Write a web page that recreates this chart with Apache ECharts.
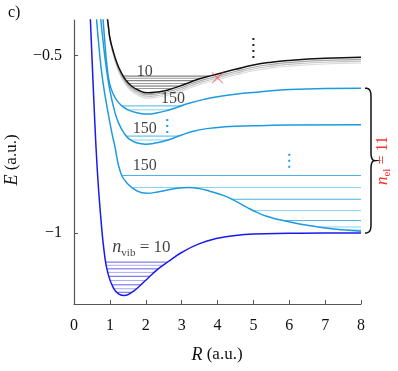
<!DOCTYPE html>
<html>
<head>
<meta charset="utf-8">
<script src="https://cdn.jsdelivr.net/npm/echarts@6/dist/echarts.min.js"></script>
<style>
  html, body { margin: 0; padding: 0; background: #fff; }
  #chart { width: 398px; height: 371px; }
</style>
</head>
<body>
<div id="chart"></div>
<script>
// potential curves, [R, E]
const groundCurve = [[0.44,-0.36],[0.55,-0.62],[0.65,-0.824],[0.75,-0.96],[0.85,-1.06],[0.95,-1.115],[1.1,-1.155],[1.25,-1.172],[1.41,-1.176],[1.6,-1.168],[1.8,-1.152],[2.0,-1.133],[2.2,-1.114],[2.4,-1.097],[2.62,-1.081],[3.0,-1.055],[3.5,-1.03],[4.0,-1.015],[4.5,-1.007],[5.0,-1.003],[6.0,-1.001],[7.0,-1.0],[8.0,-1.0]]
const blackCurve = [[0.88,-0.36],[0.95,-0.41],[1.0,-0.45],[1.08,-0.483],[1.2,-0.522],[1.32,-0.549],[1.45,-0.57],[1.6,-0.586],[1.8,-0.598],[2.06,-0.605],[2.3,-0.603],[2.62,-0.597],[3.09,-0.581],[3.4,-0.569],[3.7,-0.56],[4.0,-0.552],[4.5,-0.539],[5.0,-0.527],[5.5,-0.519],[6.0,-0.514],[7.0,-0.508],[8.0,-0.505]]
const grayCurve1 = [[0.88,-0.36],[0.95,-0.412],[1.0,-0.452],[1.08,-0.486],[1.2,-0.526],[1.32,-0.554],[1.45,-0.575],[1.6,-0.591],[1.8,-0.603],[2.06,-0.61],[2.3,-0.608],[2.62,-0.602],[3.09,-0.587],[3.4,-0.575],[3.7,-0.566],[4.0,-0.558],[4.5,-0.545],[5.0,-0.533],[5.5,-0.525],[6.0,-0.52],[7.0,-0.514],[8.0,-0.511]]
const grayCurve2 = [[0.88,-0.36],[0.95,-0.414],[1.0,-0.454],[1.08,-0.489],[1.2,-0.53],[1.32,-0.558],[1.45,-0.579],[1.6,-0.596],[1.8,-0.608],[2.06,-0.615],[2.3,-0.613],[2.62,-0.607],[3.09,-0.592],[3.4,-0.58],[3.7,-0.571],[4.0,-0.563],[4.5,-0.55],[5.0,-0.538],[5.5,-0.53],[6.0,-0.525],[7.0,-0.519],[8.0,-0.516]]
const grayCurve3 = [[0.88,-0.36],[0.95,-0.416],[1.0,-0.456],[1.08,-0.492],[1.2,-0.534],[1.32,-0.562],[1.45,-0.583],[1.6,-0.601],[1.8,-0.613],[2.06,-0.62],[2.3,-0.618],[2.62,-0.612],[3.09,-0.597],[3.4,-0.585],[3.7,-0.576],[4.0,-0.568],[4.5,-0.555],[5.0,-0.543],[5.5,-0.535],[6.0,-0.53],[7.0,-0.524],[8.0,-0.521]]
const cyanCurveA = [[0.78,-0.36],[0.85,-0.45],[0.92,-0.53],[0.99,-0.578],[1.1,-0.61],[1.22,-0.63],[1.35,-0.643],[1.5,-0.653],[1.75,-0.661],[2.05,-0.665],[2.3,-0.662],[2.6,-0.655],[2.9,-0.645],[3.23,-0.634],[3.65,-0.623],[4.0,-0.616],[4.5,-0.609],[5.0,-0.604],[5.5,-0.599],[6.0,-0.596],[7.0,-0.593],[8.0,-0.592]]
const cyanCurveB = [[0.71,-0.36],[0.8,-0.45],[0.9,-0.535],[1.0,-0.598],[1.13,-0.656],[1.25,-0.692],[1.41,-0.721],[1.55,-0.736],[1.74,-0.746],[2.0,-0.75],[2.3,-0.746],[2.62,-0.738],[3.0,-0.724],[3.3,-0.714],[3.7,-0.706],[4.2,-0.701],[5.0,-0.698],[6.0,-0.696],[8.0,-0.695]]
const cyanCurveC = [[0.6,-0.36],[0.7,-0.48],[0.8,-0.57],[0.94,-0.656],[1.05,-0.715],[1.13,-0.752],[1.3,-0.83],[1.5,-0.862],[1.75,-0.881],[2.02,-0.888],[2.4,-0.883],[2.76,-0.876],[3.2,-0.872],[3.5,-0.875],[3.8,-0.883],[4.16,-0.894],[4.5,-0.91],[4.81,-0.927],[5.1,-0.942],[5.37,-0.953],[5.7,-0.962],[6.02,-0.969],[6.5,-0.978],[6.95,-0.985],[7.5,-0.991],[8.0,-0.995]]

// vibrational / electronic levels (E)
const groundLevels = [-1.082, -1.091, -1.101, -1.111, -1.122, -1.134, -1.146, -1.157, -1.167]
const blackLevels = [-0.558, -0.564, -0.571, -0.579, -0.586, -0.593]
const cyanLevelsA = [-0.642, -0.653]
const cyanLevelsB = [-0.727, -0.738]
const cyanLevelsC = [-0.838, -0.872, -0.905, -0.937, -0.965, -0.983, -0.992]

// text labels [R, E]
const textLabels = [
  { text: '10', at: [1.97, -0.545] },
  { text: '150', at: [2.76, -0.622] },
  { text: '150', at: [1.97, -0.707] },
  { text: '150', at: [1.97, -0.81] }
]
const nvibLabelAt = [1.88, -1.041]
const crossAt = [4.0, -0.563]
const dotMarks = [
  { R: 5.0, E: [-0.451, -0.511], color: '#222' },
  { R: 2.6, E: [-0.679, -0.72], color: '#1e9be0' },
  { R: 6.0, E: [-0.777, -0.822], color: '#1e9be0' }
]
const bracketE = [-0.592, -1.0]

const serif = 'Liberation Serif'
const BLUE = '#1a1aee'
const CYAN = '#1e9be0'
const RED = '#ff3030'

function crossAtE(p, q, E) {
  return p[0] + (E - p[1]) * (q[0] - p[0]) / (q[1] - p[1])
}
// horizontal level from the left wall to the right wall (or to R = 8)
function levelSeg(curve, E, toEnd) {
  let i = 1
  while (i < curve.length && curve[i][1] > E) i++
  const x0 = crossAtE(curve[i - 1], curve[i], E)
  if (toEnd) return [[x0, E], [8, E]]
  let j = i
  while (j < curve.length && curve[j][1] <= E) j++
  const x1 = j < curve.length ? crossAtE(curve[j - 1], curve[j], E) : 8
  return [[x0, E], [x1, E]]
}

const series = []
function addLevels(curve, levels, colors, toEnd) {
  levels.forEach((E, k) => {
    series.push({
      type: 'line', data: levelSeg(curve, E, toEnd), symbol: 'none', silent: true,
      lineStyle: { color: colors[k % 2], width: 1 }, z: 1
    })
  })
}
addLevels(groundCurve, groundLevels, ['#6060f0', '#a8a8fa'], false)
addLevels(blackCurve, blackLevels, ['#666', '#9a9a9a'], false)
addLevels(cyanCurveA, cyanLevelsA, ['#4cb2e6', '#8ccff0'], false)
addLevels(cyanCurveB, cyanLevelsB, ['#4cb2e6', '#8ccff0'], false)
addLevels(cyanCurveC, cyanLevelsC, ['#4cb2e6', '#8ccff0'], true)

function curve(data, color, width, z) {
  return {
    type: 'line', data: data, symbol: 'none', smooth: 0.5, silent: true,
    lineStyle: { color: color, width: width }, z: z
  }
}
series.push(curve(grayCurve3, '#dcdcdc', 1.2, 2))
series.push(curve(grayCurve2, '#c4c4c4', 1.2, 2))
series.push(curve(grayCurve1, '#aaaaaa', 1.2, 2))
series.push(curve(blackCurve, '#111', 1.5, 3))
series.push(curve(cyanCurveA, CYAN, 1.5, 3))
series.push(curve(cyanCurveB, CYAN, 1.5, 3))
series.push(curve(cyanCurveC, CYAN, 1.5, 3))
series.push(curve(groundCurve, BLUE, 1.5, 3))

dotMarks.forEach(d => {
  series.push({
    type: 'line', data: [[d.R, d.E[0]], [d.R, d.E[1]]], symbol: 'none', silent: true,
    lineStyle: { color: d.color, width: 2, type: [2, 4] }, z: 4
  })
})

series.push({
  type: 'scatter', data: [crossAt], symbol: 'path://M0 0L10 10M10 0L0 10', symbolSize: 11,
  itemStyle: { color: 'none', borderColor: RED, borderWidth: 1 }, z: 5, silent: true
})

series.push({
  type: 'scatter', symbolSize: 0, silent: true, z: 6,
  data: textLabels.map(t => ({ name: t.text, value: t.at })),
  label: { show: true, position: 'inside', formatter: '{b}', color: '#111', fontFamily: serif, fontSize: 16 }
})
series.push({
  type: 'scatter', symbolSize: 0, silent: true, z: 6,
  data: [{ name: 'nvib', value: nvibLabelAt }],
  label: {
    show: true, position: 'inside', color: '#111', fontFamily: serif, fontSize: 16,
    formatter: '{i|n}{s|vib}{r| = 10}',
    rich: {
      i: { fontFamily: serif, fontStyle: 'italic', fontSize: 18, lineHeight: 22, color: '#111' },
      s: { fontFamily: serif, fontSize: 11, verticalAlign: 'bottom', lineHeight: 13, color: '#111' },
      r: { fontFamily: serif, fontSize: 17, lineHeight: 22, color: '#111' }
    }
  }
})

const fmt = v => (v < 0 ? '\u2212' : '') + Math.abs(v)

const chart = echarts.init(document.getElementById('chart'))
chart.setOption({
  animation: false,
  backgroundColor: '#fff',
  grid: { left: 74, right: 37, top: 20, bottom: 67 },
  xAxis: {
    type: 'value', min: 0, max: 8, interval: 1,
    axisLine: { lineStyle: { color: '#555', width: 1.2 } },
    axisTick: { inside: true, length: 4, lineStyle: { color: '#555' } },
    axisLabel: { color: '#111', fontFamily: serif, fontSize: 16, margin: 14 },
    splitLine: { show: false }
  },
  yAxis: {
    type: 'value', min: -1.2, max: -0.4,
    axisLine: { show: true, lineStyle: { color: '#555', width: 1.2 } },
    axisTick: { show: true, inside: true, length: 4, customValues: [-1, -0.5], lineStyle: { color: '#555' } },
    axisLabel: { customValues: [-1, -0.5], formatter: fmt, color: '#111', fontFamily: serif, fontSize: 16, margin: 12 },
    splitLine: { show: false }
  },
  series: series
})

// curly brace on the right, sampled from cubic pieces
const braceTop = chart.convertToPixel('grid', [8, bracketE[0]])
const braceBot = chart.convertToPixel('grid', [8, bracketE[1]])
const bx = braceTop[0] + 4, y0 = braceTop[1], y1 = braceBot[1], ym = (y0 + y1) / 2
function bez(p0, p1, p2, p3, out) {
  for (let t = 0; t <= 1.0001; t += 0.1) {
    const u = 1 - t
    out.push([
      u*u*u*p0[0] + 3*u*u*t*p1[0] + 3*u*t*t*p2[0] + t*t*t*p3[0],
      u*u*u*p0[1] + 3*u*u*t*p1[1] + 3*u*t*t*p2[1] + t*t*t*p3[1]
    ])
  }
}
const bracePts = []
bez([bx, y0], [bx + 5, y0], [bx + 6, y0 + 3], [bx + 6, y0 + 9], bracePts)
bez([bx + 6, ym - 8], [bx + 6, ym - 3], [bx + 7, ym], [bx + 10, ym], bracePts)
bez([bx + 10, ym], [bx + 7, ym], [bx + 6, ym + 3], [bx + 6, ym + 8], bracePts)
bez([bx + 6, y1 - 9], [bx + 6, y1 - 3], [bx + 5, y1], [bx, y1], bracePts)

chart.setOption({
  graphic: [
    { type: 'polyline', shape: { points: bracePts }, style: { fill: null, stroke: '#111', lineWidth: 1.5 }, silent: true },
    {
      type: 'text', x: 383, y: ym, rotation: Math.PI / 2, silent: true,
      style: {
        text: '{i|n}{s|el}{r| = 11}', align: 'center', verticalAlign: 'middle',
        rich: {
          i: { fontFamily: serif, fontStyle: 'italic', fontSize: 17, lineHeight: 20, fill: RED },
          s: { fontFamily: serif, fontSize: 11, verticalAlign: 'bottom', lineHeight: 12, fill: RED },
          r: { fontFamily: serif, fontSize: 16, lineHeight: 20, fill: RED }
        }
      }
    },
    { type: 'text', x: 8, y: 5, silent: true, style: { text: 'c)', fontFamily: serif, fontSize: 16, fill: '#111' } },
    {
      type: 'text', x: 217, y: 355, silent: true,
      style: {
        text: '{i|R}{r| (a.u.)}', align: 'center', verticalAlign: 'middle',
        rich: {
          i: { fontFamily: serif, fontStyle: 'italic', fontSize: 18, fill: '#111' },
          r: { fontFamily: serif, fontSize: 17, fill: '#111' }
        }
      }
    },
    {
      type: 'text', x: 12, y: 160, rotation: Math.PI / 2, silent: true,
      style: {
        text: '{i|E}{r| (a.u.)}', align: 'center', verticalAlign: 'middle',
        rich: {
          i: { fontFamily: serif, fontStyle: 'italic', fontSize: 18, fill: '#111' },
          r: { fontFamily: serif, fontSize: 17, fill: '#111' }
        }
      }
    }
  ]
})
</script>
</body>
</html>
